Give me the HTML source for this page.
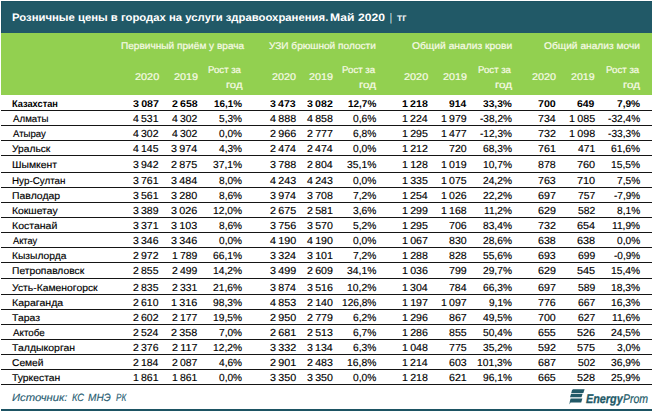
<!DOCTYPE html>
<html><head><meta charset="utf-8"><title>t</title>
<style>
html,body{margin:0;padding:0;background:#fff;}
body{width:652px;height:411px;position:relative;overflow:hidden;font-family:"Liberation Sans",sans-serif;color:#000;text-rendering:geometricPrecision;}
.a{position:absolute;white-space:pre;line-height:1;-webkit-text-stroke:0.15px currentColor;}
.hd{-webkit-text-stroke:0.2px currentColor;}

.l{transform-origin:0 50%;}
.r{transform-origin:100% 50%;}
.ln{position:absolute;left:1px;right:0;height:1px;background:#151515;}
.b{font-weight:bold;-webkit-text-stroke:0;}
.i{font-style:italic;}
.lg{-webkit-text-stroke:0.3px currentColor;}
.lg2{-webkit-text-stroke:0.2px currentColor;}
</style></head><body>
<div class="a" style="left:1px;top:1px;width:651px;height:32px;background:#215967;box-shadow:inset 1px 1px 0 #1c5363"></div>
<div class="a" style="left:1px;top:33px;width:651px;height:62px;background:#92d050"></div>
<div class="a l b " style="left:12px;top:13px;font-size:10.75px;transform:scaleX(1.0527);color:#fff;">Розничные цены в городах на услуги здравоохранения.</div>
<div class="a l b " style="left:330px;top:13px;font-size:10.75px;transform:scaleX(1.1310);color:#fff;">Май 2020</div>
<div class="a l  " style="left:390px;top:13px;font-size:11px;transform:scaleX(0.6061);color:#fff;">|</div>
<div class="a l  " style="left:397px;top:14px;font-size:10.4px;transform:scaleX(1.1206);color:#fff;">тг</div>
<div class="a l  hd" style="left:121px;top:42px;font-size:9.8px;transform:scaleX(1.0307);color:#f7fae6;">Первичный приём у врача</div>
<div class="a l  hd" style="left:135px;top:73px;font-size:9.8px;transform:scaleX(1.1097);color:#f7fae6;">2020</div>
<div class="a l  hd" style="left:174px;top:73px;font-size:9.8px;transform:scaleX(1.1054);color:#f7fae6;">2019</div>
<div class="a l  hd" style="left:208px;top:66px;font-size:9.8px;transform:scaleX(0.9807);color:#f7fae6;">Рост за</div>
<div class="a l  hd" style="left:226px;top:81px;font-size:9.8px;transform:scaleX(1.1495);color:#f7fae6;">год</div>
<div class="a l  hd" style="left:269px;top:42px;font-size:9.8px;transform:scaleX(1.0307);color:#f7fae6;">УЗИ брюшной полости</div>
<div class="a l  hd" style="left:272px;top:73px;font-size:9.8px;transform:scaleX(1.0957);color:#f7fae6;">2020</div>
<div class="a l  hd" style="left:309px;top:73px;font-size:9.8px;transform:scaleX(1.1054);color:#f7fae6;">2019</div>
<div class="a l  hd" style="left:342px;top:66px;font-size:9.8px;transform:scaleX(0.9867);color:#f7fae6;">Рост за</div>
<div class="a l  hd" style="left:359px;top:81px;font-size:9.8px;transform:scaleX(1.1918);color:#f7fae6;">год</div>
<div class="a l  hd" style="left:412px;top:42px;font-size:9.8px;transform:scaleX(1.0486);color:#f7fae6;">Общий анализ крови</div>
<div class="a l  hd" style="left:404px;top:73px;font-size:9.8px;transform:scaleX(1.1097);color:#f7fae6;">2020</div>
<div class="a l  hd" style="left:443px;top:73px;font-size:9.8px;transform:scaleX(1.0961);color:#f7fae6;">2019</div>
<div class="a l  hd" style="left:478px;top:66px;font-size:9.8px;transform:scaleX(0.9807);color:#f7fae6;">Рост за</div>
<div class="a l  hd" style="left:495px;top:81px;font-size:9.8px;transform:scaleX(1.1989);color:#f7fae6;">год</div>
<div class="a l  hd" style="left:544px;top:42px;font-size:9.8px;transform:scaleX(1.0407);color:#f7fae6;">Общий анализ мочи</div>
<div class="a l  hd" style="left:532px;top:73px;font-size:9.8px;transform:scaleX(1.1004);color:#f7fae6;">2020</div>
<div class="a l  hd" style="left:571px;top:73px;font-size:9.8px;transform:scaleX(1.0867);color:#f7fae6;">2019</div>
<div class="a l  hd" style="left:606px;top:66px;font-size:9.8px;transform:scaleX(0.9896);color:#f7fae6;">Рост за</div>
<div class="a l  hd" style="left:623px;top:81px;font-size:9.8px;transform:scaleX(1.1848);color:#f7fae6;">год</div>
<div class="ln" style="top:110px"></div>
<div class="a l b " style="left:12px;top:100px;font-size:9.8px;transform:scaleX(0.9425);">Казахстан</div>
<div class="a l b" style="left:133px;top:100px;font-size:9.8px;transform:scaleX(1.0908);word-spacing:-0.7px;">3 087</div>
<div class="a l b" style="left:172px;top:100px;font-size:9.8px;transform:scaleX(1.0777);word-spacing:-0.7px;">2 658</div>
<div class="a l b" style="left:214px;top:100px;font-size:9.8px;transform:scaleX(1.0073);">16,1%</div>
<div class="a l b" style="left:270px;top:100px;font-size:9.8px;transform:scaleX(1.0780);word-spacing:-0.7px;">3 473</div>
<div class="a l b" style="left:307px;top:100px;font-size:9.8px;transform:scaleX(1.0822);word-spacing:-0.7px;">3 082</div>
<div class="a l b" style="left:348px;top:100px;font-size:9.8px;transform:scaleX(1.0181);">12,7%</div>
<div class="a l b" style="left:402px;top:100px;font-size:9.8px;transform:scaleX(1.0862);word-spacing:-0.7px;">1 218</div>
<div class="a l b" style="left:449px;top:100px;font-size:9.8px;transform:scaleX(1.0495);">914</div>
<div class="a l b" style="left:483px;top:100px;font-size:9.8px;transform:scaleX(1.0399);">33,3%</div>
<div class="a l b" style="left:538px;top:100px;font-size:9.8px;transform:scaleX(1.0877);">700</div>
<div class="a l b" style="left:577px;top:100px;font-size:9.8px;transform:scaleX(1.0627);">649</div>
<div class="a l b" style="left:617px;top:100px;font-size:9.8px;transform:scaleX(1.0339);">7,9%</div>
<div class="ln" style="top:125px"></div>
<div class="a l  " style="left:13px;top:115px;font-size:9.8px;transform:scaleX(0.9904);">Алматы</div>
<div class="a l " style="left:133px;top:115px;font-size:10.2px;transform:scaleX(1.0306);word-spacing:-0.7px;">4 531</div>
<div class="a l " style="left:172px;top:115px;font-size:10.2px;transform:scaleX(1.0224);word-spacing:-0.7px;">4 302</div>
<div class="a l " style="left:219px;top:115px;font-size:10.2px;transform:scaleX(0.9934);">5,3%</div>
<div class="a l " style="left:270px;top:115px;font-size:10.2px;transform:scaleX(1.0549);word-spacing:-0.7px;">4 888</div>
<div class="a l " style="left:307px;top:115px;font-size:10.2px;transform:scaleX(1.0427);word-spacing:-0.7px;">4 858</div>
<div class="a l " style="left:353px;top:115px;font-size:10.2px;transform:scaleX(1.0065);">0,6%</div>
<div class="a l " style="left:402px;top:115px;font-size:10.2px;transform:scaleX(1.0384);word-spacing:-0.7px;">1 224</div>
<div class="a l " style="left:441px;top:115px;font-size:10.2px;transform:scaleX(1.0388);word-spacing:-0.7px;">1 979</div>
<div class="a l " style="left:480px;top:115px;font-size:10.2px;transform:scaleX(0.9900);">-38,2%</div>
<div class="a l " style="left:538px;top:115px;font-size:10.2px;transform:scaleX(1.0387);">734</div>
<div class="a l " style="left:569px;top:115px;font-size:10.2px;transform:scaleX(1.0549);word-spacing:-0.7px;">1 085</div>
<div class="a l " style="left:608px;top:115px;font-size:10.2px;transform:scaleX(0.9962);">-32,4%</div>
<div class="ln" style="top:140px"></div>
<div class="a l  " style="left:13px;top:130px;font-size:9.8px;transform:scaleX(0.9808);">Атырау</div>
<div class="a l " style="left:133px;top:130px;font-size:10.2px;transform:scaleX(1.0306);word-spacing:-0.7px;">4 302</div>
<div class="a l " style="left:172px;top:130px;font-size:10.2px;transform:scaleX(1.0224);word-spacing:-0.7px;">4 302</div>
<div class="a l " style="left:219px;top:130px;font-size:10.2px;transform:scaleX(0.9934);">0,0%</div>
<div class="a l " style="left:270px;top:130px;font-size:10.2px;transform:scaleX(1.0549);word-spacing:-0.7px;">2 966</div>
<div class="a l " style="left:307px;top:130px;font-size:10.2px;transform:scaleX(1.0470);word-spacing:-0.7px;">2 777</div>
<div class="a l " style="left:353px;top:130px;font-size:10.2px;transform:scaleX(1.0065);">6,8%</div>
<div class="a l " style="left:402px;top:130px;font-size:10.2px;transform:scaleX(1.0427);word-spacing:-0.7px;">1 295</div>
<div class="a l " style="left:441px;top:130px;font-size:10.2px;transform:scaleX(1.0388);word-spacing:-0.7px;">1 477</div>
<div class="a l " style="left:480px;top:130px;font-size:10.2px;transform:scaleX(0.9900);">-12,3%</div>
<div class="a l " style="left:538px;top:130px;font-size:10.2px;transform:scaleX(1.0515);">732</div>
<div class="a l " style="left:569px;top:130px;font-size:10.2px;transform:scaleX(1.0549);word-spacing:-0.7px;">1 098</div>
<div class="a l " style="left:608px;top:130px;font-size:10.2px;transform:scaleX(0.9962);">-33,3%</div>
<div class="ln" style="top:155px"></div>
<div class="a l  " style="left:12px;top:145px;font-size:9.8px;transform:scaleX(1.0443);">Уральск</div>
<div class="a l " style="left:133px;top:145px;font-size:10.2px;transform:scaleX(1.0263);word-spacing:-0.7px;">4 145</div>
<div class="a l " style="left:171px;top:145px;font-size:10.2px;transform:scaleX(1.0546);word-spacing:-0.7px;">3 974</div>
<div class="a l " style="left:219px;top:145px;font-size:10.2px;transform:scaleX(0.9934);">4,3%</div>
<div class="a l " style="left:270px;top:145px;font-size:10.2px;transform:scaleX(1.0506);word-spacing:-0.7px;">2 474</div>
<div class="a l " style="left:307px;top:145px;font-size:10.2px;transform:scaleX(1.0384);word-spacing:-0.7px;">2 474</div>
<div class="a l " style="left:353px;top:145px;font-size:10.2px;transform:scaleX(1.0065);">0,0%</div>
<div class="a l " style="left:402px;top:145px;font-size:10.2px;transform:scaleX(1.0470);word-spacing:-0.7px;">1 212</div>
<div class="a l " style="left:449px;top:145px;font-size:10.2px;transform:scaleX(1.0391);">720</div>
<div class="a l " style="left:483px;top:145px;font-size:10.2px;transform:scaleX(1.0026);">68,3%</div>
<div class="a l " style="left:538px;top:145px;font-size:10.2px;transform:scaleX(1.0515);">761</div>
<div class="a l " style="left:578px;top:145px;font-size:10.2px;transform:scaleX(1.0153);">471</div>
<div class="a l " style="left:611px;top:145px;font-size:10.2px;transform:scaleX(1.0096);">61,6%</div>
<div class="ln" style="top:172px"></div>
<div class="a l  " style="left:12px;top:161px;font-size:9.8px;transform:scaleX(1.0593);">Шымкент</div>
<div class="a l " style="left:133px;top:161px;font-size:10.2px;transform:scaleX(1.0306);word-spacing:-0.7px;">3 942</div>
<div class="a l " style="left:171px;top:161px;font-size:10.2px;transform:scaleX(1.0590);word-spacing:-0.7px;">2 875</div>
<div class="a l " style="left:213px;top:161px;font-size:10.2px;transform:scaleX(1.0061);">37,1%</div>
<div class="a l " style="left:270px;top:161px;font-size:10.2px;transform:scaleX(1.0549);word-spacing:-0.7px;">3 788</div>
<div class="a l " style="left:307px;top:161px;font-size:10.2px;transform:scaleX(1.0384);word-spacing:-0.7px;">2 804</div>
<div class="a l " style="left:347px;top:161px;font-size:10.2px;transform:scaleX(1.0166);">35,1%</div>
<div class="a l " style="left:402px;top:161px;font-size:10.2px;transform:scaleX(1.0427);word-spacing:-0.7px;">1 128</div>
<div class="a l " style="left:441px;top:161px;font-size:10.2px;transform:scaleX(1.0388);word-spacing:-0.7px;">1 019</div>
<div class="a l " style="left:483px;top:161px;font-size:10.2px;transform:scaleX(1.0026);">10,7%</div>
<div class="a l " style="left:538px;top:161px;font-size:10.2px;transform:scaleX(1.0451);">878</div>
<div class="a l " style="left:577px;top:161px;font-size:10.2px;transform:scaleX(1.0691);">760</div>
<div class="a l " style="left:611px;top:161px;font-size:10.2px;transform:scaleX(1.0096);">15,5%</div>
<div class="ln" style="top:187px"></div>
<div class="a l  " style="left:12px;top:177px;font-size:9.8px;transform:scaleX(1.0040);">Нур-Султан</div>
<div class="a l " style="left:133px;top:177px;font-size:10.2px;transform:scaleX(1.0306);word-spacing:-0.7px;">3 761</div>
<div class="a l " style="left:171px;top:177px;font-size:10.2px;transform:scaleX(1.0546);word-spacing:-0.7px;">3 484</div>
<div class="a l " style="left:219px;top:177px;font-size:10.2px;transform:scaleX(0.9934);">8,0%</div>
<div class="a l " style="left:270px;top:177px;font-size:10.2px;transform:scaleX(1.0549);word-spacing:-0.7px;">4 243</div>
<div class="a l " style="left:307px;top:177px;font-size:10.2px;transform:scaleX(1.0427);word-spacing:-0.7px;">4 243</div>
<div class="a l " style="left:353px;top:177px;font-size:10.2px;transform:scaleX(1.0065);">0,0%</div>
<div class="a l " style="left:402px;top:177px;font-size:10.2px;transform:scaleX(1.0427);word-spacing:-0.7px;">1 335</div>
<div class="a l " style="left:441px;top:177px;font-size:10.2px;transform:scaleX(1.0345);word-spacing:-0.7px;">1 075</div>
<div class="a l " style="left:483px;top:177px;font-size:10.2px;transform:scaleX(1.0026);">24,2%</div>
<div class="a l " style="left:538px;top:177px;font-size:10.2px;transform:scaleX(1.0451);">763</div>
<div class="a l " style="left:577px;top:177px;font-size:10.2px;transform:scaleX(1.0691);">710</div>
<div class="a l " style="left:617px;top:177px;font-size:10.2px;transform:scaleX(0.9978);">7,5%</div>
<div class="ln" style="top:202px"></div>
<div class="a l  " style="left:12px;top:192px;font-size:9.8px;transform:scaleX(1.0669);">Павлодар</div>
<div class="a l " style="left:133px;top:192px;font-size:10.2px;transform:scaleX(1.0306);word-spacing:-0.7px;">3 561</div>
<div class="a l " style="left:171px;top:192px;font-size:10.2px;transform:scaleX(1.0590);word-spacing:-0.7px;">3 280</div>
<div class="a l " style="left:219px;top:192px;font-size:10.2px;transform:scaleX(0.9934);">8,6%</div>
<div class="a l " style="left:270px;top:192px;font-size:10.2px;transform:scaleX(1.0506);word-spacing:-0.7px;">3 974</div>
<div class="a l " style="left:307px;top:192px;font-size:10.2px;transform:scaleX(1.0427);word-spacing:-0.7px;">3 708</div>
<div class="a l " style="left:353px;top:192px;font-size:10.2px;transform:scaleX(1.0065);">7,2%</div>
<div class="a l " style="left:402px;top:192px;font-size:10.2px;transform:scaleX(1.0384);word-spacing:-0.7px;">1 254</div>
<div class="a l " style="left:441px;top:192px;font-size:10.2px;transform:scaleX(1.0345);word-spacing:-0.7px;">1 026</div>
<div class="a l " style="left:483px;top:192px;font-size:10.2px;transform:scaleX(1.0026);">22,2%</div>
<div class="a l " style="left:538px;top:192px;font-size:10.2px;transform:scaleX(1.0515);">697</div>
<div class="a l " style="left:578px;top:192px;font-size:10.2px;transform:scaleX(1.0153);">757</div>
<div class="a l " style="left:614px;top:192px;font-size:10.2px;transform:scaleX(0.9830);">-7,9%</div>
<div class="ln" style="top:217px"></div>
<div class="a l  " style="left:12px;top:207px;font-size:9.8px;transform:scaleX(1.0592);">Кокшетау</div>
<div class="a l " style="left:133px;top:207px;font-size:10.2px;transform:scaleX(1.0306);word-spacing:-0.7px;">3 389</div>
<div class="a l " style="left:171px;top:207px;font-size:10.2px;transform:scaleX(1.0590);word-spacing:-0.7px;">3 026</div>
<div class="a l " style="left:213px;top:207px;font-size:10.2px;transform:scaleX(1.0061);">12,0%</div>
<div class="a l " style="left:270px;top:207px;font-size:10.2px;transform:scaleX(1.0549);word-spacing:-0.7px;">2 675</div>
<div class="a l " style="left:307px;top:207px;font-size:10.2px;transform:scaleX(1.0470);word-spacing:-0.7px;">2 581</div>
<div class="a l " style="left:353px;top:207px;font-size:10.2px;transform:scaleX(1.0065);">3,6%</div>
<div class="a l " style="left:402px;top:207px;font-size:10.2px;transform:scaleX(1.0470);word-spacing:-0.7px;">1 299</div>
<div class="a l " style="left:441px;top:207px;font-size:10.2px;transform:scaleX(1.0345);word-spacing:-0.7px;">1 168</div>
<div class="a l " style="left:484px;top:207px;font-size:10.2px;transform:scaleX(0.9940);">11,2%</div>
<div class="a l " style="left:538px;top:207px;font-size:10.2px;transform:scaleX(1.0515);">629</div>
<div class="a l " style="left:578px;top:207px;font-size:10.2px;transform:scaleX(1.0153);">582</div>
<div class="a l " style="left:617px;top:207px;font-size:10.2px;transform:scaleX(0.9978);">8,1%</div>
<div class="ln" style="top:232px"></div>
<div class="a l  " style="left:12px;top:222px;font-size:9.8px;transform:scaleX(1.0734);">Костанай</div>
<div class="a l " style="left:133px;top:222px;font-size:10.2px;transform:scaleX(1.0306);word-spacing:-0.7px;">3 371</div>
<div class="a l " style="left:171px;top:222px;font-size:10.2px;transform:scaleX(1.0590);word-spacing:-0.7px;">3 103</div>
<div class="a l " style="left:219px;top:222px;font-size:10.2px;transform:scaleX(0.9934);">8,6%</div>
<div class="a l " style="left:270px;top:222px;font-size:10.2px;transform:scaleX(1.0549);word-spacing:-0.7px;">3 756</div>
<div class="a l " style="left:307px;top:222px;font-size:10.2px;transform:scaleX(1.0427);word-spacing:-0.7px;">3 570</div>
<div class="a l " style="left:353px;top:222px;font-size:10.2px;transform:scaleX(1.0065);">5,2%</div>
<div class="a l " style="left:402px;top:222px;font-size:10.2px;transform:scaleX(1.0427);word-spacing:-0.7px;">1 295</div>
<div class="a l " style="left:449px;top:222px;font-size:10.2px;transform:scaleX(1.0391);">706</div>
<div class="a l " style="left:483px;top:222px;font-size:10.2px;transform:scaleX(1.0026);">83,4%</div>
<div class="a l " style="left:538px;top:222px;font-size:10.2px;transform:scaleX(1.0515);">732</div>
<div class="a l " style="left:577px;top:222px;font-size:10.2px;transform:scaleX(1.0626);">654</div>
<div class="a l " style="left:612px;top:222px;font-size:10.2px;transform:scaleX(1.0012);">11,9%</div>
<div class="ln" style="top:247px"></div>
<div class="a l  " style="left:13px;top:237px;font-size:9.8px;transform:scaleX(0.9431);">Актау</div>
<div class="a l " style="left:133px;top:237px;font-size:10.2px;transform:scaleX(1.0263);word-spacing:-0.7px;">3 346</div>
<div class="a l " style="left:171px;top:237px;font-size:10.2px;transform:scaleX(1.0590);word-spacing:-0.7px;">3 346</div>
<div class="a l " style="left:219px;top:237px;font-size:10.2px;transform:scaleX(0.9934);">0,0%</div>
<div class="a l " style="left:270px;top:237px;font-size:10.2px;transform:scaleX(1.0549);word-spacing:-0.7px;">4 190</div>
<div class="a l " style="left:307px;top:237px;font-size:10.2px;transform:scaleX(1.0427);word-spacing:-0.7px;">4 190</div>
<div class="a l " style="left:353px;top:237px;font-size:10.2px;transform:scaleX(1.0065);">0,0%</div>
<div class="a l " style="left:402px;top:237px;font-size:10.2px;transform:scaleX(1.0470);word-spacing:-0.7px;">1 067</div>
<div class="a l " style="left:449px;top:237px;font-size:10.2px;transform:scaleX(1.0391);">830</div>
<div class="a l " style="left:483px;top:237px;font-size:10.2px;transform:scaleX(1.0026);">28,6%</div>
<div class="a l " style="left:538px;top:237px;font-size:10.2px;transform:scaleX(1.0451);">638</div>
<div class="a l " style="left:577px;top:237px;font-size:10.2px;transform:scaleX(1.0691);">638</div>
<div class="a l " style="left:617px;top:237px;font-size:10.2px;transform:scaleX(0.9978);">0,0%</div>
<div class="ln" style="top:262px"></div>
<div class="a l  " style="left:12px;top:252px;font-size:9.8px;transform:scaleX(1.0462);">Кызылорда</div>
<div class="a l " style="left:133px;top:252px;font-size:10.2px;transform:scaleX(1.0306);word-spacing:-0.7px;">2 972</div>
<div class="a l " style="left:172px;top:252px;font-size:10.2px;transform:scaleX(1.0224);word-spacing:-0.7px;">1 789</div>
<div class="a l " style="left:213px;top:252px;font-size:10.2px;transform:scaleX(1.0061);">66,1%</div>
<div class="a l " style="left:270px;top:252px;font-size:10.2px;transform:scaleX(1.0506);word-spacing:-0.7px;">3 324</div>
<div class="a l " style="left:307px;top:252px;font-size:10.2px;transform:scaleX(1.0470);word-spacing:-0.7px;">3 101</div>
<div class="a l " style="left:353px;top:252px;font-size:10.2px;transform:scaleX(1.0065);">7,2%</div>
<div class="a l " style="left:402px;top:252px;font-size:10.2px;transform:scaleX(1.0427);word-spacing:-0.7px;">1 288</div>
<div class="a l " style="left:449px;top:252px;font-size:10.2px;transform:scaleX(1.0391);">828</div>
<div class="a l " style="left:483px;top:252px;font-size:10.2px;transform:scaleX(1.0026);">55,6%</div>
<div class="a l " style="left:538px;top:252px;font-size:10.2px;transform:scaleX(1.0451);">693</div>
<div class="a l " style="left:578px;top:252px;font-size:10.2px;transform:scaleX(1.0153);">699</div>
<div class="a l " style="left:614px;top:252px;font-size:10.2px;transform:scaleX(0.9830);">-0,9%</div>
<div class="ln" style="top:278px"></div>
<div class="a l  " style="left:12px;top:267px;font-size:9.8px;transform:scaleX(1.0481);">Петропавловск</div>
<div class="a l " style="left:133px;top:267px;font-size:10.2px;transform:scaleX(1.0263);word-spacing:-0.7px;">2 855</div>
<div class="a l " style="left:172px;top:267px;font-size:10.2px;transform:scaleX(1.0224);word-spacing:-0.7px;">2 499</div>
<div class="a l " style="left:213px;top:267px;font-size:10.2px;transform:scaleX(1.0061);">14,2%</div>
<div class="a l " style="left:270px;top:267px;font-size:10.2px;transform:scaleX(1.0594);word-spacing:-0.7px;">3 499</div>
<div class="a l " style="left:307px;top:267px;font-size:10.2px;transform:scaleX(1.0470);word-spacing:-0.7px;">2 609</div>
<div class="a l " style="left:347px;top:267px;font-size:10.2px;transform:scaleX(1.0166);">34,1%</div>
<div class="a l " style="left:402px;top:267px;font-size:10.2px;transform:scaleX(1.0427);word-spacing:-0.7px;">1 036</div>
<div class="a l " style="left:449px;top:267px;font-size:10.2px;transform:scaleX(1.0455);">799</div>
<div class="a l " style="left:483px;top:267px;font-size:10.2px;transform:scaleX(1.0026);">29,7%</div>
<div class="a l " style="left:538px;top:267px;font-size:10.2px;transform:scaleX(1.0515);">629</div>
<div class="a l " style="left:577px;top:267px;font-size:10.2px;transform:scaleX(1.0691);">545</div>
<div class="a l " style="left:611px;top:267px;font-size:10.2px;transform:scaleX(1.0096);">15,4%</div>
<div class="ln" style="top:294px"></div>
<div class="a l  " style="left:12px;top:284px;font-size:9.8px;transform:scaleX(1.0579);">Усть-Каменогорск</div>
<div class="a l " style="left:133px;top:284px;font-size:10.2px;transform:scaleX(1.0263);word-spacing:-0.7px;">2 835</div>
<div class="a l " style="left:172px;top:284px;font-size:10.2px;transform:scaleX(1.0224);word-spacing:-0.7px;">2 331</div>
<div class="a l " style="left:213px;top:284px;font-size:10.2px;transform:scaleX(1.0061);">21,6%</div>
<div class="a l " style="left:270px;top:284px;font-size:10.2px;transform:scaleX(1.0506);word-spacing:-0.7px;">3 874</div>
<div class="a l " style="left:307px;top:284px;font-size:10.2px;transform:scaleX(1.0427);word-spacing:-0.7px;">3 516</div>
<div class="a l " style="left:347px;top:284px;font-size:10.2px;transform:scaleX(1.0166);">10,2%</div>
<div class="a l " style="left:402px;top:284px;font-size:10.2px;transform:scaleX(1.0384);word-spacing:-0.7px;">1 304</div>
<div class="a l " style="left:449px;top:284px;font-size:10.2px;transform:scaleX(1.0327);">784</div>
<div class="a l " style="left:483px;top:284px;font-size:10.2px;transform:scaleX(1.0026);">66,3%</div>
<div class="a l " style="left:538px;top:284px;font-size:10.2px;transform:scaleX(1.0515);">697</div>
<div class="a l " style="left:578px;top:284px;font-size:10.2px;transform:scaleX(1.0153);">589</div>
<div class="a l " style="left:611px;top:284px;font-size:10.2px;transform:scaleX(1.0096);">18,3%</div>
<div class="ln" style="top:309px"></div>
<div class="a l  " style="left:12px;top:299px;font-size:9.8px;transform:scaleX(1.0803);">Караганда</div>
<div class="a l " style="left:133px;top:299px;font-size:10.2px;transform:scaleX(1.0263);word-spacing:-0.7px;">2 610</div>
<div class="a l " style="left:171px;top:299px;font-size:10.2px;transform:scaleX(1.0590);word-spacing:-0.7px;">1 316</div>
<div class="a l " style="left:213px;top:299px;font-size:10.2px;transform:scaleX(1.0061);">98,3%</div>
<div class="a l " style="left:270px;top:299px;font-size:10.2px;transform:scaleX(1.0549);word-spacing:-0.7px;">4 853</div>
<div class="a l " style="left:307px;top:299px;font-size:10.2px;transform:scaleX(1.0427);word-spacing:-0.7px;">2 140</div>
<div class="a l " style="left:342px;top:299px;font-size:10.2px;transform:scaleX(0.9943);">126,8%</div>
<div class="a l " style="left:402px;top:299px;font-size:10.2px;transform:scaleX(1.0470);word-spacing:-0.7px;">1 197</div>
<div class="a l " style="left:441px;top:299px;font-size:10.2px;transform:scaleX(1.0388);word-spacing:-0.7px;">1 097</div>
<div class="a l " style="left:489px;top:299px;font-size:10.2px;transform:scaleX(0.9890);">9,1%</div>
<div class="a l " style="left:538px;top:299px;font-size:10.2px;transform:scaleX(1.0451);">776</div>
<div class="a l " style="left:578px;top:299px;font-size:10.2px;transform:scaleX(1.0153);">667</div>
<div class="a l " style="left:611px;top:299px;font-size:10.2px;transform:scaleX(1.0096);">16,3%</div>
<div class="ln" style="top:324px"></div>
<div class="a l  " style="left:12px;top:314px;font-size:9.8px;transform:scaleX(1.0692);">Тараз</div>
<div class="a l " style="left:133px;top:314px;font-size:10.2px;transform:scaleX(1.0306);word-spacing:-0.7px;">2 602</div>
<div class="a l " style="left:172px;top:314px;font-size:10.2px;transform:scaleX(1.0224);word-spacing:-0.7px;">2 177</div>
<div class="a l " style="left:213px;top:314px;font-size:10.2px;transform:scaleX(1.0061);">19,5%</div>
<div class="a l " style="left:270px;top:314px;font-size:10.2px;transform:scaleX(1.0549);word-spacing:-0.7px;">2 950</div>
<div class="a l " style="left:307px;top:314px;font-size:10.2px;transform:scaleX(1.0470);word-spacing:-0.7px;">2 779</div>
<div class="a l " style="left:353px;top:314px;font-size:10.2px;transform:scaleX(1.0065);">6,2%</div>
<div class="a l " style="left:402px;top:314px;font-size:10.2px;transform:scaleX(1.0427);word-spacing:-0.7px;">1 296</div>
<div class="a l " style="left:449px;top:314px;font-size:10.2px;transform:scaleX(1.0455);">867</div>
<div class="a l " style="left:483px;top:314px;font-size:10.2px;transform:scaleX(1.0026);">49,5%</div>
<div class="a l " style="left:538px;top:314px;font-size:10.2px;transform:scaleX(1.0451);">700</div>
<div class="a l " style="left:578px;top:314px;font-size:10.2px;transform:scaleX(1.0153);">627</div>
<div class="a l " style="left:612px;top:314px;font-size:10.2px;transform:scaleX(1.0012);">11,6%</div>
<div class="ln" style="top:339px"></div>
<div class="a l  " style="left:13px;top:329px;font-size:9.8px;transform:scaleX(0.9980);">Актобе</div>
<div class="a l " style="left:133px;top:329px;font-size:10.2px;transform:scaleX(1.0221);word-spacing:-0.7px;">2 524</div>
<div class="a l " style="left:171px;top:329px;font-size:10.2px;transform:scaleX(1.0590);word-spacing:-0.7px;">2 358</div>
<div class="a l " style="left:219px;top:329px;font-size:10.2px;transform:scaleX(0.9934);">7,0%</div>
<div class="a l " style="left:270px;top:329px;font-size:10.2px;transform:scaleX(1.0594);word-spacing:-0.7px;">2 681</div>
<div class="a l " style="left:307px;top:329px;font-size:10.2px;transform:scaleX(1.0427);word-spacing:-0.7px;">2 513</div>
<div class="a l " style="left:353px;top:329px;font-size:10.2px;transform:scaleX(1.0065);">6,7%</div>
<div class="a l " style="left:402px;top:329px;font-size:10.2px;transform:scaleX(1.0427);word-spacing:-0.7px;">1 286</div>
<div class="a l " style="left:449px;top:329px;font-size:10.2px;transform:scaleX(1.0391);">855</div>
<div class="a l " style="left:483px;top:329px;font-size:10.2px;transform:scaleX(1.0026);">50,4%</div>
<div class="a l " style="left:538px;top:329px;font-size:10.2px;transform:scaleX(1.0451);">655</div>
<div class="a l " style="left:577px;top:329px;font-size:10.2px;transform:scaleX(1.0691);">526</div>
<div class="a l " style="left:611px;top:329px;font-size:10.2px;transform:scaleX(1.0096);">24,5%</div>
<div class="ln" style="top:354px"></div>
<div class="a l  " style="left:12px;top:344px;font-size:9.8px;transform:scaleX(1.0705);">Талдыкорган</div>
<div class="a l " style="left:133px;top:344px;font-size:10.2px;transform:scaleX(1.0263);word-spacing:-0.7px;">2 376</div>
<div class="a l " style="left:172px;top:344px;font-size:10.2px;transform:scaleX(1.0552);word-spacing:-0.7px;">2 117</div>
<div class="a l " style="left:213px;top:344px;font-size:10.2px;transform:scaleX(1.0061);">12,2%</div>
<div class="a l " style="left:270px;top:344px;font-size:10.2px;transform:scaleX(1.0594);word-spacing:-0.7px;">3 332</div>
<div class="a l " style="left:307px;top:344px;font-size:10.2px;transform:scaleX(1.0384);word-spacing:-0.7px;">3 134</div>
<div class="a l " style="left:353px;top:344px;font-size:10.2px;transform:scaleX(1.0065);">6,3%</div>
<div class="a l " style="left:402px;top:344px;font-size:10.2px;transform:scaleX(1.0427);word-spacing:-0.7px;">1 048</div>
<div class="a l " style="left:449px;top:344px;font-size:10.2px;transform:scaleX(1.0391);">775</div>
<div class="a l " style="left:483px;top:344px;font-size:10.2px;transform:scaleX(1.0026);">35,2%</div>
<div class="a l " style="left:538px;top:344px;font-size:10.2px;transform:scaleX(1.0515);">592</div>
<div class="a l " style="left:577px;top:344px;font-size:10.2px;transform:scaleX(1.0691);">575</div>
<div class="a l " style="left:617px;top:344px;font-size:10.2px;transform:scaleX(0.9978);">3,0%</div>
<div class="ln" style="top:369px"></div>
<div class="a l  " style="left:12px;top:359px;font-size:9.8px;transform:scaleX(1.0435);">Семей</div>
<div class="a l " style="left:133px;top:359px;font-size:10.2px;transform:scaleX(1.0221);word-spacing:-0.7px;">2 184</div>
<div class="a l " style="left:172px;top:359px;font-size:10.2px;transform:scaleX(1.0224);word-spacing:-0.7px;">2 087</div>
<div class="a l " style="left:219px;top:359px;font-size:10.2px;transform:scaleX(0.9934);">4,6%</div>
<div class="a l " style="left:270px;top:359px;font-size:10.2px;transform:scaleX(1.0594);word-spacing:-0.7px;">2 901</div>
<div class="a l " style="left:307px;top:359px;font-size:10.2px;transform:scaleX(1.0427);word-spacing:-0.7px;">2 483</div>
<div class="a l " style="left:347px;top:359px;font-size:10.2px;transform:scaleX(1.0166);">16,8%</div>
<div class="a l " style="left:402px;top:359px;font-size:10.2px;transform:scaleX(1.0384);word-spacing:-0.7px;">1 214</div>
<div class="a l " style="left:449px;top:359px;font-size:10.2px;transform:scaleX(1.0391);">603</div>
<div class="a l " style="left:477px;top:359px;font-size:10.2px;transform:scaleX(1.0118);">101,3%</div>
<div class="a l " style="left:538px;top:359px;font-size:10.2px;transform:scaleX(1.0515);">687</div>
<div class="a l " style="left:578px;top:359px;font-size:10.2px;transform:scaleX(1.0153);">502</div>
<div class="a l " style="left:611px;top:359px;font-size:10.2px;transform:scaleX(1.0096);">36,9%</div>
<div class="ln" style="top:384px"></div>
<div class="a l  " style="left:12px;top:374px;font-size:9.8px;transform:scaleX(1.0576);">Туркестан</div>
<div class="a l " style="left:133px;top:374px;font-size:10.2px;transform:scaleX(1.0306);word-spacing:-0.7px;">1 861</div>
<div class="a l " style="left:172px;top:374px;font-size:10.2px;transform:scaleX(1.0224);word-spacing:-0.7px;">1 861</div>
<div class="a l " style="left:219px;top:374px;font-size:10.2px;transform:scaleX(0.9934);">0,0%</div>
<div class="a l " style="left:270px;top:374px;font-size:10.2px;transform:scaleX(1.0549);word-spacing:-0.7px;">3 350</div>
<div class="a l " style="left:307px;top:374px;font-size:10.2px;transform:scaleX(1.0427);word-spacing:-0.7px;">3 350</div>
<div class="a l " style="left:353px;top:374px;font-size:10.2px;transform:scaleX(1.0065);">0,0%</div>
<div class="a l " style="left:402px;top:374px;font-size:10.2px;transform:scaleX(1.0427);word-spacing:-0.7px;">1 218</div>
<div class="a l " style="left:449px;top:374px;font-size:10.2px;transform:scaleX(1.0455);">621</div>
<div class="a l " style="left:483px;top:374px;font-size:10.2px;transform:scaleX(1.0026);">96,1%</div>
<div class="a l " style="left:538px;top:374px;font-size:10.2px;transform:scaleX(1.0451);">665</div>
<div class="a l " style="left:577px;top:374px;font-size:10.2px;transform:scaleX(1.0691);">528</div>
<div class="a l " style="left:611px;top:374px;font-size:10.2px;transform:scaleX(1.0096);">25,9%</div>
<div class="a l i " style="left:12px;top:393px;font-size:10.6px;transform:scaleX(1.0642);color:#2a6073;">Источник:</div>
<div class="a l i " style="left:72px;top:393px;font-size:10.6px;transform:scaleX(0.8726);color:#2a6073;">КС</div>
<div class="a l i " style="left:88px;top:393px;font-size:10.6px;transform:scaleX(0.9539);color:#2a6073;">МНЭ</div>
<div class="a l i " style="left:116px;top:393px;font-size:10.6px;transform:scaleX(0.7651);color:#2a6073;">РК</div>
<svg class="a" style="left:566px;top:386px" width="22" height="22" viewBox="566 386 22 22"><g fill="#215967">
<path d="M573.0 389.3 L584.6 389.3 L583.4 393.0 L571.2 393.0 Q571.8 389.6 573.0 389.3 Z"/>
<path d="M571.1 393.65 L582.6 393.65 L581.5 397.2 L570.0 397.2 Z"/>
<path d="M570.6 398.5 L582.4 398.5 L581.2 402.5 L570.6 402.5 L569.4 404.4 L569.8 401.5 Z"/>
</g></svg>
<div class="a l b i lg" style="left:586px;top:393px;font-size:12.6px;transform:scaleX(0.8598);color:#215967;">Energy</div>
<div class="a l i lg2" style="left:623px;top:393px;font-size:12.6px;transform:scaleX(0.8355);color:#215967;">Prom</div>
<div class="a" style="left:1px;top:408.8px;width:651px;height:2.2px;background:#1d5363"></div>
</body></html>
